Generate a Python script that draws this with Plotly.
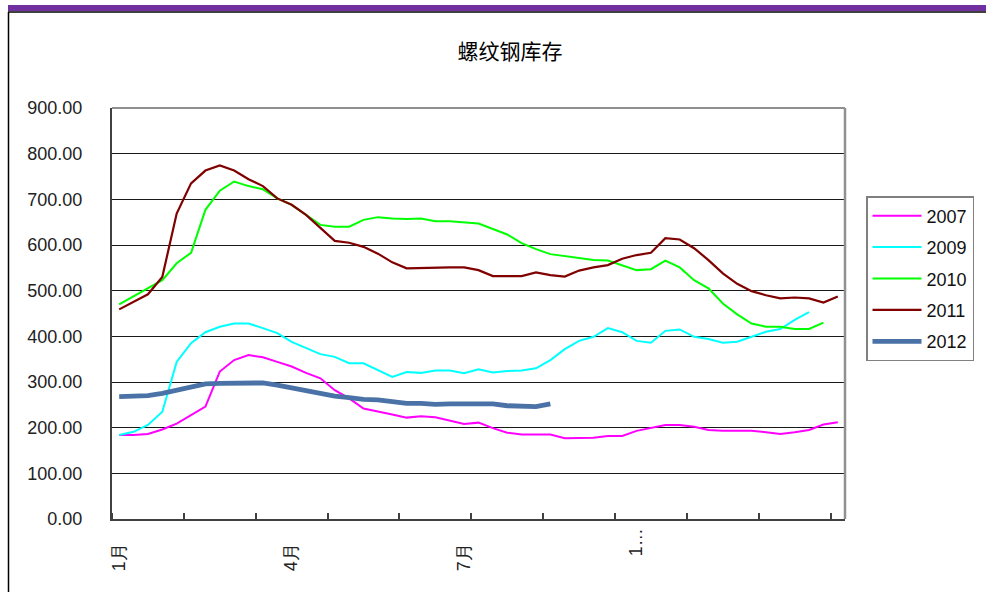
import plotly.graph_objects as go

# ---------------- data ----------------
weeks = list(range(51))
tick_pos = [0, 12, 24, 36]
tick_labels = ["1月", "4月", "7月", "1…"]

names = ["2007", "2009", "2010", "2011", "2012"]

s2007 = [184, 184, 186, 196, 209, 228, 246, 323, 348, 359, 354, 344, 334, 320, 308, 282, 264,
         242, 236, 229, 222, 225, 223, 215, 208, 211, 199, 189, 185, 185, 185, 177, 177, 178,
         182, 182, 193, 199, 206, 206, 202, 195, 193, 193, 193, 190, 186, 190, 195, 207, 212]
s2009 = [184, 191, 206, 235, 344, 385, 409, 421, 428, 428, 418, 407, 388, 374, 361, 355, 341,
         341, 326, 311, 322, 320, 325, 325, 319, 328, 321, 324, 325, 330, 348, 372, 390, 399,
         418, 409, 390, 386, 412, 415, 399, 394, 386, 388, 399, 410, 416, 436, 453]
s2010 = [470, 488, 506, 523, 560, 583, 677, 719, 739, 729, 722, 702, 688, 666, 644, 640, 640,
         655, 661, 658, 657, 658, 652, 652, 650, 647, 635, 623, 604, 591, 580, 576, 571, 567,
         566, 556, 545, 547, 566, 551, 523, 505, 472, 448, 428, 421, 421, 416, 416, 430]
s2011 = [459, 475, 492, 530, 669, 735, 763, 774, 763, 744, 729, 702, 688, 666, 637, 609, 605,
         596, 581, 562, 549, 550, 551, 551, 551, 545, 532, 532, 532, 540, 534, 531, 544, 551,
         556, 570, 578, 583, 615, 612, 593, 567, 538, 515, 499, 490, 483, 485, 483, 474, 487]
s2012 = [268, 270, 270, 275, 282, 291, 296, 297, 298, 298, 298, 293, 288, 281, 275, 269, 266,
         262, 261, 257, 253, 253, 251, 252, 252, 252, 252, 248, 246, 246, 252]

series = [s2007, s2009, s2010, s2011, s2012]
colors = ["#ff00ff", "#00ffff", "#00ff00", "#800000", "#4a72a6"]
widths = [2, 2, 2, 2.2, 4.8]

# ---------------- geometry (screen px) ----------------
W, H = 986, 592
L, R, T, B = 112, 845, 108, 519   # plot area


def px(xp):
    return (xp - L) / (R - L)


def py(yp):
    return (B - yp) / (B - T)


nb = "\u00a0"

fig = go.Figure()
for n, s, c, w in zip(names, series, colors, widths):
    fig.add_trace(go.Scatter(x=weeks[:len(s)], y=s, mode="lines", name=n, legendgroup=n,
                             line=dict(color=c, width=w)))

ticktext = [tick_labels[0] + nb * 3, tick_labels[1] + nb * 3, tick_labels[2] + nb * 3,
            tick_labels[3]]

axis_font = dict(family="Liberation Sans, Arial", size=18, color="#222222")

fig.update_layout(
    width=W, height=H,
    margin=dict(l=L, r=W - R, t=T, b=H - B, pad=0),
    paper_bgcolor="white", plot_bgcolor="white",
    title=dict(text="螺纹钢库存", x=510 / W, xanchor="center", y=1 - 52 / H, yanchor="middle",
               font=dict(family="Noto Sans CJK SC", size=21, color="#000000")),
    xaxis=dict(range=[-0.5, 50.5], tickmode="array", tickvals=tick_pos, ticktext=ticktext,
               tickangle=-90, ticks="", showgrid=False, zeroline=False,
               showline=True, linecolor="#404040", linewidth=2, tickfont=axis_font,
               ticklabelstandoff=0,
               minor=dict(tickmode="array", tickvals=[-0.5 + 5 * k for k in range(11)],
                          ticks="inside", ticklen=6, tickcolor="#404040", tickwidth=1.5,
                          showgrid=False)),
    yaxis=dict(range=[0, 900], tick0=0, dtick=100, tickformat=".2f", ticks="",
               showgrid=True, gridcolor="#1a1a1a", gridwidth=1.2, zeroline=False,
               showline=True, linecolor="#404040", linewidth=2, tickfont=axis_font,
               ticklabelstandoff=24),
    legend=dict(x=px(866), y=py(196), xanchor="left", yanchor="top",
                bordercolor="#808080", borderwidth=1.5, bgcolor="white",
                font=dict(family="Liberation Sans, Arial", size=18, color="#111111"),
                tracegroupgap=5, itemwidth=49),
    showlegend=True,
    shapes=[
        # plot area top / right border (gray)
        dict(type="line", xref="paper", yref="paper", x0=0, x1=1, y0=1, y1=1,
             line=dict(color="#909090", width=2)),
        dict(type="line", xref="paper", yref="paper", x0=1, x1=1, y0=0, y1=1,
             line=dict(color="#909090", width=2.5)),
        # outer frame: purple band, black line, left border
        dict(type="rect", xref="paper", yref="paper", x0=px(8), x1=px(1000), y0=py(5), y1=py(11),
             fillcolor="#7030a0", line=dict(width=0), layer="above"),
        dict(type="line", xref="paper", yref="paper", x0=px(8), x1=px(1000), y0=py(12), y1=py(12),
             line=dict(color="#000000", width=1.5)),
        dict(type="line", xref="paper", yref="paper", x0=px(8.5), x1=px(8.5), y0=py(12), y1=py(600),
             line=dict(color="#000000", width=1.5)),
    ],
)

fig.write_html("out.html", config={"displayModeBar": False},
               post_script="document.body.style.margin='0';")
